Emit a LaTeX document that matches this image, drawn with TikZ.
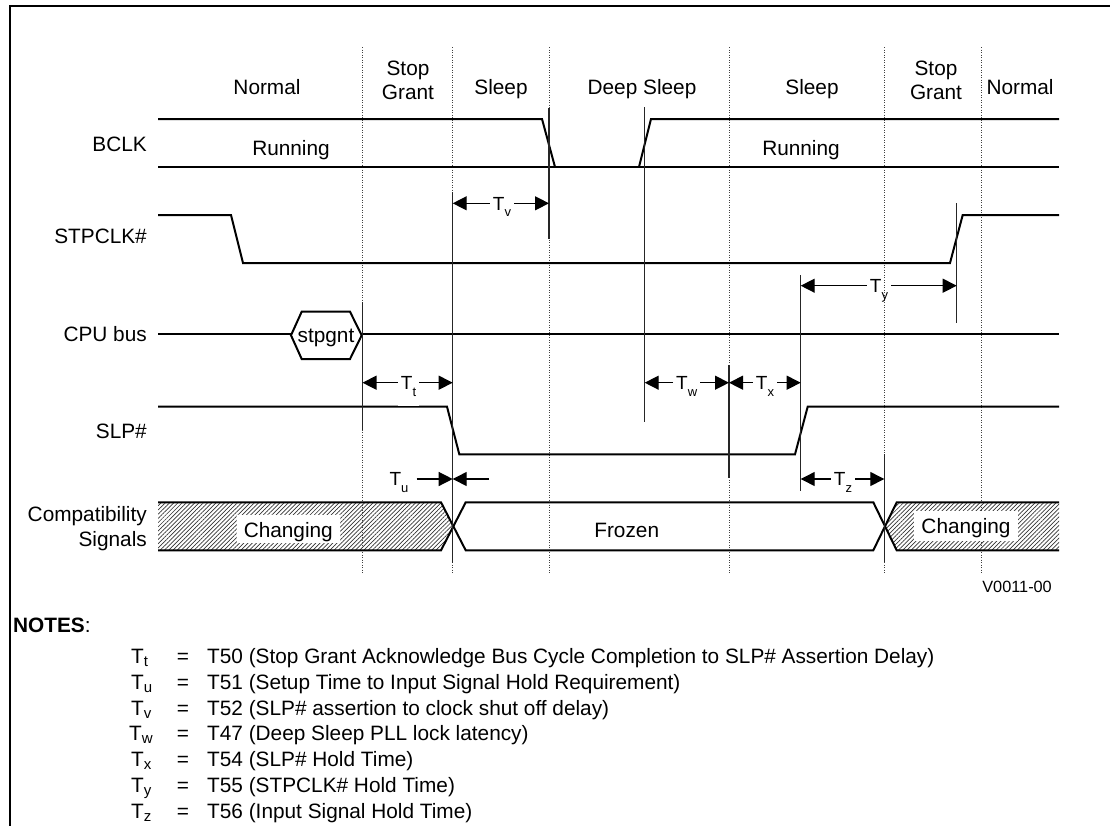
\documentclass[tikz,border=0pt]{standalone}
\usepackage{fontspec}
\setmainfont{Liberation Sans}
\usetikzlibrary{arrows.meta,patterns.meta}
\newcommand{\mfont}{\fontsize{20.8}{24.3}\selectfont}
\newcommand{\lfont}{\fontsize{19}{20}\selectfont}
\newcommand{\Tsub}[1]{T\raisebox{-6.5pt}{\fontsize{13}{13}\selectfont #1}}
\newcommand{\Nsub}[1]{T\raisebox{-3pt}{\fontsize{15}{15}\selectfont #1}}
\begin{document}
\begin{tikzpicture}[x=1pt,y=-1pt,font=\mfont,
  sig/.style={line width=2pt,line join=miter},
  dotv/.style={black!75,line width=0.9pt,dash pattern=on 0.9pt off 1.6pt},
  ext/.style={line width=1.1pt,black!85},
  shaft/.style={line width=1.3pt,-{Triangle[length=14pt,width=14pt]}},
  tlab/.style={font=\lfont,anchor=base,inner xsep=3pt,inner ysep=0pt},
  rowlab/.style={anchor=base east,inner sep=0pt},
  txt/.style={anchor=base,inner sep=0pt},
  notel/.style={anchor=base west,inner sep=0pt},
  hatch/.style={pattern={Lines[angle=45,distance=3pt,line width=0.7pt]},pattern color=black!80},
  chbox/.style={fill=white,anchor=base,inner xsep=7pt,inner ysep=0pt}
]
\useasboundingbox (0,0) rectangle (1110,825);
% frame
\draw[line width=2.6pt] (10,826) -- (10,6) -- (1111,6);
% dotted phase boundaries
\foreach \x in {362.5,452.7,549,729,884.3,981}
  \draw[dotv] (\x,47) -- (\x,573);
% phase labels
\node[txt] (ph1) at (267,94.3) {Normal};
\node[txt] (ph2a) at (408,75) {Stop};
\node[txt] (ph2b) at (408,99.3) {Grant};
\node[txt] (ph3) at (501,94.3) {Sleep};
\node[txt] (ph4) at (642,94.3) {Deep Sleep};
\node[txt] (ph5) at (812,94.3) {Sleep};
\node[txt] (ph6a) at (936,75) {Stop};
\node[txt] (ph6b) at (936,99.3) {Grant};
\node[txt] (ph7) at (1020,94.3) {Normal};
% row labels
\node[rowlab] (rBCLK) at (147,151) {BCLK};
\node[rowlab] (rSTP) at (147,243.3) {STPCLK\#};
\node[rowlab] (rCPU) at (147,341.7) {CPU bus};
\node[rowlab] (rSLP) at (147,438.3) {SLP\#};
\node[rowlab] (rCmp1) at (147,521.7) {Compatibility};
\node[rowlab] (rCmp2) at (147,546.7) {Signals};
% BCLK
\draw[sig] (158,119) -- (542,119) -- (555,167);
\draw[sig] (158,167) -- (1059,167);
\draw[sig] (639,167) -- (651,119) -- (1059,119);
\node[txt] (run1) at (291,155) {Running};
\node[txt] (run2) at (801,155) {Running};
% STPCLK#
\draw[sig] (158,215) -- (231,215) -- (243,263) -- (950,263) -- (962.7,215) -- (1059,215);
% CPU bus
\draw[sig] (158,334) -- (291,334);
\draw[sig] (291,335.3) -- (301.7,311.7) -- (350,311.7) -- (361.7,335.3) -- (350,359) -- (301.7,359) -- cycle;
\draw[sig] (361.7,334) -- (1059,334);
\node[txt] (stpgnt) at (326,342) {stpgnt};
% SLP#
\draw[sig] (158,406.7) -- (447,406.7) -- (459.3,454.3) -- (795,454.3) -- (807.7,406.7) -- (1059,406.7);
% compatibility signals
\fill[hatch] (158,502.3) -- (441,502.3) -- (452.7,526.3) -- (441,550.3) -- (158,550.3) -- cycle;
\fill[hatch] (884.3,526.3) -- (896.7,502.3) -- (1059,502.3) -- (1059,550.3) -- (896.7,550.3) -- cycle;
\draw[sig] (158,502.3) -- (441,502.3) -- (465.7,550.3) -- (873.3,550.3) -- (896.7,502.3) -- (1059,502.3);
\draw[sig] (158,550.3) -- (441,550.3) -- (465.7,502.3) -- (873.3,502.3) -- (896.7,550.3) -- (1059,550.3);
\node[chbox,text height=22.3pt,text depth=5.7pt] (chg1) at (288.3,537.3) {Changing};
\node[chbox,text height=22.6pt,text depth=7.4pt] (chg2) at (966,533.3) {Changing};
\node[txt] (frz) at (626.7,537.3) {Frozen};
% extension lines
\draw[ext] (362.5,302) -- (362.5,430);
\draw[ext] (452.7,192) -- (452.7,563);
\draw[ext] (549,108) -- (549,239);
\draw[ext] (644.7,107) -- (644.7,421.7);
\draw[ext] (729,365) -- (729,478);
\draw[ext] (800.7,275) -- (800.7,490.7);
\draw[ext] (956.7,203) -- (956.7,323);
\draw[ext] (884.3,454) -- (884.3,561.7);
% Tv
\coordinate (tvL) at (452.7,203.3); \coordinate (tvR) at (549,203.3);
\node[tlab] (tv) at (502,210.1) {\Tsub{v}};
\draw[shaft] (tv.west |- tvL) -- (tvL);
\draw[shaft] (tv.east |- tvR) -- (tvR);
% Ty
\coordinate (tyL) at (800.7,285.7); \coordinate (tyR) at (956.7,285.7);
\node[tlab] (ty) at (879,292.5) {\Tsub{y}};
\draw[shaft] (ty.west |- tyL) -- (tyL);
\draw[shaft] (ty.east |- tyR) -- (tyR);
% Tt
\coordinate (ttL) at (362.5,382.7); \coordinate (ttR) at (452.7,382.7);
\node[tlab,fill=white,inner ysep=10.3pt] (tt) at (408.5,389.5) {\Tsub{t}};
\draw[shaft] (tt.west |- ttL) -- (ttL);
\draw[shaft] (tt.east |- ttR) -- (ttR);
% Tw
\coordinate (twL) at (644.7,382.7); \coordinate (twR) at (729,382.7);
\node[tlab] (tw) at (686.7,389.5) {\Tsub{w}};
\draw[shaft] (tw.west |- twL) -- (twL);
\draw[shaft] (tw.east |- twR) -- (twR);
% Tx
\coordinate (txL) at (729,382.7); \coordinate (txR) at (800.7,382.7);
\node[tlab] (tx) at (765,389.5) {\Tsub{x}};
\draw[shaft] (tx.west |- txL) -- (txL);
\draw[shaft] (tx.east |- txR) -- (txR);
% Tz
\coordinate (tzL) at (800.7,479); \coordinate (tzR) at (884.3,479);
\node[tlab] (tz) at (843,485.8) {\Tsub{z}};
\draw[shaft] (tz.west |- tzL) -- (tzL);
\draw[shaft] (tz.east |- tzR) -- (tzR);
% Tu
\coordinate (tuA) at (416.7,479); \coordinate (tuM) at (452.7,479); \coordinate (tuB) at (489,479);
\node[tlab] (tu) at (399,485.8) {\Tsub{u}};
\draw[shaft] (tuA) -- (tuM);
\draw[shaft] (tuB) -- (tuM);
% figure id
\node[anchor=base east,inner sep=0pt,font=\fontsize{16.3}{18}\selectfont] (vid) at (1052,592.7) {V0011-00};
% notes
\node[notel] (notes) at (13,632.4) {\textbf{NOTES}:};
\node[notel] (n1a) at (131,663.4) {\Nsub{t}};
\node[notel] (n2a) at (131,689.2) {\Nsub{u}};
\node[notel] (n3a) at (131,715) {\Nsub{v}};
\node[notel] (n4a) at (129,740.8) {\Nsub{w}};
\node[notel] (n5a) at (131,766.6) {\Nsub{x}};
\node[notel] (n6a) at (131,792.4) {\Nsub{y}};
\node[notel] (n7a) at (131,818.2) {\Nsub{z}};
\foreach \yy/\nm in {663.4/n1,689.2/n2,715/n3,740.8/n4,766.6/n5,792.4/n6,818.2/n7}
  \node[txt] (\nm e) at (183,\yy) {=};
\node[notel] (n1b) at (207,663.4) {T50 (Stop Grant Acknowledge Bus Cycle Completion to SLP\# Assertion Delay)};
\node[notel] (n2b) at (207,689.2) {T51 (Setup Time to Input Signal Hold Requirement)};
\node[notel] (n3b) at (207,715) {T52 (SLP\# assertion to clock shut off delay)};
\node[notel] (n4b) at (207,740.8) {T47 (Deep Sleep PLL lock latency)};
\node[notel] (n5b) at (207,766.6) {T54 (SLP\# Hold Time)};
\node[notel] (n6b) at (207,792.4) {T55 (STPCLK\# Hold Time)};
\node[notel] (n7b) at (207,818.2) {T56 (Input Signal Hold Time)};
\end{tikzpicture}
\end{document}
